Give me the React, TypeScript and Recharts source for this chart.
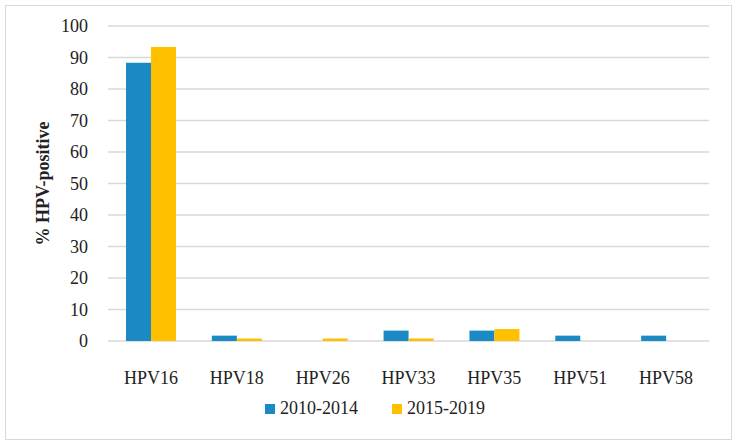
import React from 'react';
import { BarChart, Bar, XAxis, YAxis, CartesianGrid, Legend } from 'recharts';

const categories = ['HPV16', 'HPV18', 'HPV26', 'HPV33', 'HPV35', 'HPV51', 'HPV58'];
const early = [88.3, 1.7, 0, 3.3, 3.3, 1.7, 1.7];
const late = [93.3, 0.8, 0.8, 0.8, 3.8, 0, 0];
const yTicks = [0, 10, 20, 30, 40, 50, 60, 70, 80, 90, 100];

const SERIES = [
  { key: 'early', name: '2010-2014', color: '#1a8ac4' },
  { key: 'late', name: '2015-2019', color: '#ffc000' },
];

const FONT = '"Palatino Linotype", "Book Antiqua", Palatino, "Liberation Serif", serif';

const data = categories.map((cat, i) => ({ cat, early: early[i], late: late[i] }));

const LegendContent = () => (
  <div style={{ display: 'flex', justifyContent: 'center', gap: 34, fontFamily: FONT, fontSize: 18, color: '#222', paddingLeft: 14 }}>
    {SERIES.map((s) => (
      <div key={s.key} style={{ display: 'flex', alignItems: 'center' }}>
        <span style={{ width: 10, height: 10, background: s.color, marginRight: 5, display: 'inline-block' }} />
        <span>{s.name}</span>
      </div>
    ))}
  </div>
);

const YLabel = ({ viewBox }: any) => {
  const cx = 43;
  const cy = viewBox.y + viewBox.height / 2;
  return (
    <text
      x={cx}
      y={cy}
      transform={`rotate(-90, ${cx}, ${cy})`}
      textAnchor="middle"
      dominantBaseline="central"
      style={{ fontFamily: FONT, fontSize: 18, fontWeight: 'bold', fill: '#222' }}
    >
      % HPV-positive
    </text>
  );
};

export default function App() {
  return (
    <div style={{ position: 'fixed', left: 0, top: 0, width: 736, height: 445, background: '#fff' }}>
      <div
        style={{
          position: 'absolute',
          left: 5,
          top: 5,
          width: 727,
          height: 435,
          boxSizing: 'border-box',
          border: '1.5px solid #d9d9d9',
        }}
      />
      <div style={{ position: 'absolute', left: 0, top: 0 }}>
        <BarChart
          width={736}
          height={445}
          data={data}
          margin={{ top: 26, right: 27, bottom: 33, left: 0 }}
          barGap={0}
          barSize={25}
        >
          <CartesianGrid vertical={false} stroke="#d9d9d9" strokeWidth={1.5} />
          <XAxis
            dataKey="cat"
            axisLine={false}
            tickLine={false}
            height={50}
            tickMargin={24}
            tick={{ fontFamily: FONT, fontSize: 18, fill: '#222' }}
          />
          <YAxis
            domain={[0, 100]}
            ticks={yTicks}
            interval={0}
            width={108}
            axisLine={false}
            tickLine={false}
            tickMargin={14}
            tick={{ fontFamily: FONT, fontSize: 18, fill: '#222' }}
            label={{ content: YLabel }}
          />
          <Legend content={<LegendContent />} wrapperStyle={{ top: 398, left: 0, width: 736 }} />
          {SERIES.map((s) => (
            <Bar key={s.key} dataKey={s.key} name={s.name} fill={s.color} isAnimationActive={false} />
          ))}
        </BarChart>
      </div>
    </div>
  );
}
